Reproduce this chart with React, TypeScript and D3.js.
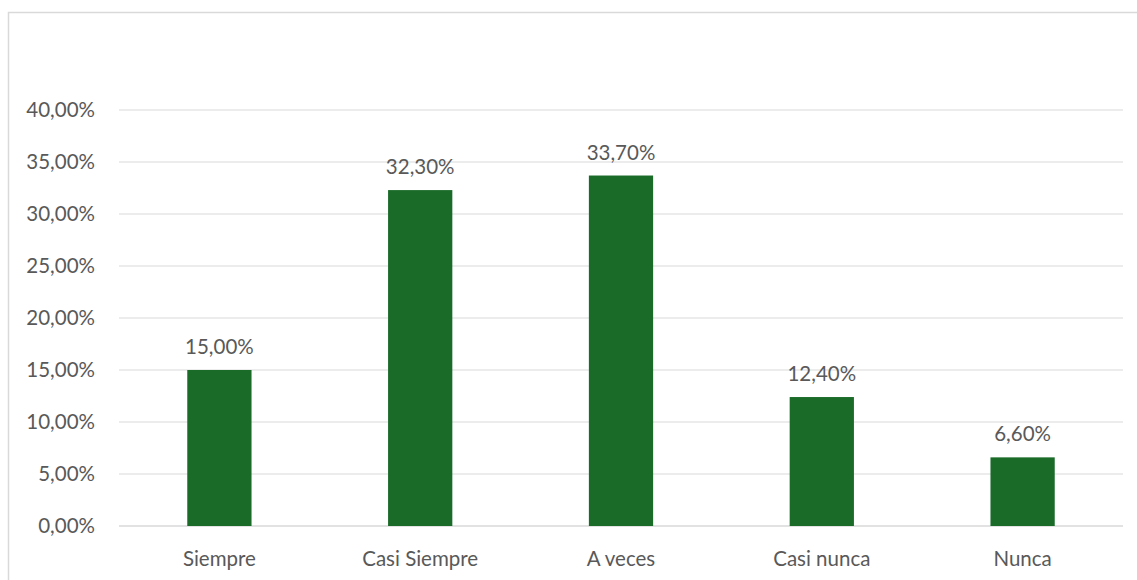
import React from "react";
import * as d3 from "d3";

const categories = ["Siempre", "Casi Siempre", "A veces", "Casi nunca", "Nunca"];
const values = [15.0, 32.3, 33.7, 12.4, 6.6];
const yTicks = [0, 5, 10, 15, 20, 25, 30, 35, 40];

const W = 1137;
const H = 580;
const fmt = (v: number) => v.toFixed(2).replace(".", ",") + "%";

export default function App() {
  const x = d3.scaleBand<string>().domain(categories).range([119, 1123]).paddingInner(0.68).paddingOuter(0.34);
  const y = d3.scaleLinear().domain([0, 40]).range([526, 110]);
  const font = "Lato, 'Open Sans', sans-serif";
  const textColor = "#595959";
  return (
    <div style={{ position: "absolute", left: 0, top: 0, width: W, height: H, background: "#fff" }}>
      <svg width={W} height={H} style={{ display: "block" }}>
        <rect x={8.5} y={12.5} width={W + 20} height={H + 20} fill="#fff" stroke="#d9d9d9" strokeWidth={1.5} />
        {yTicks.map((t) => (
          <g key={t}>
            <line x1={119} x2={1123} y1={y(t)} y2={y(t)} stroke="#d9d9d9" strokeWidth={t === 0 ? 1.5 : 1} />
            <text x={95} y={y(t)} dy="0.36em" textAnchor="end" fontFamily={font} fontSize={20.5} fill={textColor}>
              {fmt(t)}
            </text>
          </g>
        ))}
        {categories.map((c, i) => (
          <g key={c}>
            <rect x={x(c)} y={y(values[i])} width={x.bandwidth()} height={y(0) - y(values[i])} fill="#1a6b28" />
            <text x={(x(c) ?? 0) + x.bandwidth() / 2} y={y(values[i]) - 16} textAnchor="middle" fontFamily={font} fontSize={20.5} fill={textColor}>
              {fmt(values[i])}
            </text>
            <text x={(x(c) ?? 0) + x.bandwidth() / 2} y={566} textAnchor="middle" fontFamily={font} fontSize={20.5} fill={textColor}>
              {c}
            </text>
          </g>
        ))}
      </svg>
    </div>
  );
}
